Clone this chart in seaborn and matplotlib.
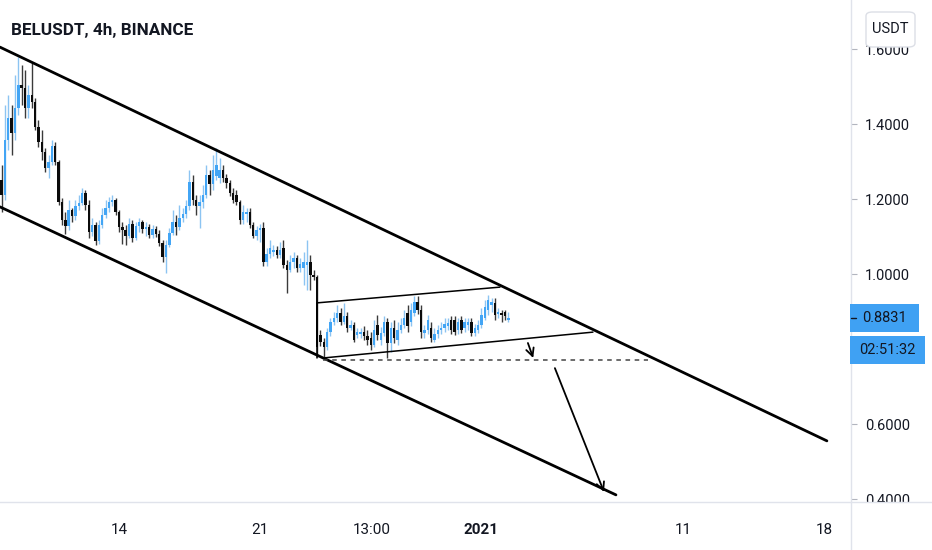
import matplotlib
matplotlib.use("Agg")
import matplotlib.pyplot as plt
import matplotlib.dates as mdates
from matplotlib.patches import Rectangle, FancyBboxPatch
import numpy as np
import pandas as pd
import seaborn as sns

# 4h candles (BELUSDT, Binance)
opens = [1.251, 1.211, 1.357, 1.416, 1.376, 1.443, 1.504, 1.496, 1.443, 1.477,
         1.459, 1.392, 1.352, 1.325, 1.283, 1.299, 1.341, 1.299, 1.192, 1.144,
         1.128, 1.171, 1.155, 1.181, 1.189, 1.216, 1.184, 1.112, 1.131, 1.088,
         1.131, 1.157, 1.176, 1.192, 1.197, 1.165, 1.125, 1.117, 1.101, 1.133,
         1.096, 1.128, 1.139, 1.120, 1.125, 1.104, 1.120, 1.107, 1.083, 1.045,
         1.077, 1.109, 1.139, 1.125, 1.149, 1.160, 1.181, 1.245, 1.197, 1.181,
         1.192, 1.211, 1.264, 1.240, 1.261, 1.256, 1.277, 1.256, 1.243, 1.216,
         1.211, 1.192, 1.144, 1.160, 1.165, 1.131, 1.101, 1.117, 1.123, 1.032,
         1.053, 1.059, 1.064, 1.051, 1.069, 1.024, 1.011, 1.032, 1.043, 1.016,
         1.016, 1.024, 1.032, 0.997, 0.992, 0.837, 0.819, 0.805, 0.845, 0.872,
         0.883, 0.896, 0.872, 0.888, 0.856, 0.864, 0.837, 0.840, 0.845, 0.835,
         0.829, 0.811, 0.864, 0.824, 0.843, 0.872, 0.816, 0.856, 0.824, 0.851,
         0.864, 0.896, 0.872, 0.896, 0.925, 0.904, 0.843, 0.851, 0.856, 0.824,
         0.840, 0.851, 0.856, 0.861, 0.877, 0.877, 0.851, 0.877, 0.856, 0.864,
         0.872, 0.843, 0.851, 0.864, 0.883, 0.904, 0.917, 0.923, 0.893, 0.896,
         0.899, 0.877]
highs = [1.291, 1.451, 1.477, 1.451, 1.531, 1.579, 1.557, 1.544, 1.504, 1.563,
         1.469, 1.411, 1.384, 1.336, 1.317, 1.357, 1.352, 1.304, 1.203, 1.165,
         1.197, 1.176, 1.197, 1.211, 1.229, 1.224, 1.197, 1.149, 1.139, 1.144,
         1.176, 1.197, 1.205, 1.211, 1.203, 1.171, 1.139, 1.131, 1.149, 1.144,
         1.139, 1.149, 1.144, 1.139, 1.133, 1.131, 1.128, 1.117, 1.091, 1.091,
         1.123, 1.171, 1.157, 1.184, 1.176, 1.197, 1.277, 1.264, 1.211, 1.211,
         1.237, 1.291, 1.277, 1.317, 1.336, 1.309, 1.291, 1.267, 1.251, 1.229,
         1.224, 1.197, 1.184, 1.176, 1.176, 1.139, 1.128, 1.133, 1.139, 1.069,
         1.091, 1.077, 1.075, 1.085, 1.091, 1.037, 1.051, 1.059, 1.051, 1.043,
         1.059, 1.091, 1.051, 1.011, 0.997, 0.851, 0.829, 0.856, 0.883, 0.899,
         0.917, 0.909, 0.923, 0.899, 0.877, 0.872, 0.856, 0.856, 0.861, 0.851,
         0.845, 0.877, 0.891, 0.859, 0.888, 0.883, 0.872, 0.877, 0.872, 0.883,
         0.904, 0.917, 0.923, 0.941, 0.941, 0.917, 0.864, 0.891, 0.872, 0.856,
         0.864, 0.872, 0.883, 0.883, 0.888, 0.888, 0.883, 0.888, 0.883, 0.883,
         0.883, 0.867, 0.877, 0.909, 0.931, 0.944, 0.936, 0.936, 0.909, 0.904,
         0.904, 0.899]
lows = [1.165, 1.197, 1.331, 1.317, 1.357, 1.424, 1.451, 1.416, 1.416, 1.443,
        1.384, 1.339, 1.304, 1.272, 1.256, 1.291, 1.291, 1.184, 1.131, 1.107,
        1.117, 1.139, 1.144, 1.171, 1.184, 1.171, 1.096, 1.101, 1.077, 1.080,
        1.123, 1.149, 1.165, 1.181, 1.157, 1.112, 1.080, 1.077, 1.096, 1.085,
        1.091, 1.112, 1.109, 1.101, 1.096, 1.096, 1.099, 1.075, 1.032, 1.003,
        1.072, 1.104, 1.104, 1.117, 1.139, 1.149, 1.171, 1.184, 1.157, 1.123,
        1.176, 1.203, 1.211, 1.224, 1.251, 1.243, 1.245, 1.229, 1.208, 1.189,
        1.184, 1.133, 1.133, 1.139, 1.123, 1.096, 1.091, 1.085, 1.021, 1.021,
        1.043, 1.048, 1.043, 1.043, 1.016, 0.949, 1.005, 1.016, 1.005, 1.005,
        0.971, 0.957, 0.957, 0.984, 0.779, 0.808, 0.779, 0.797, 0.835, 0.864,
        0.872, 0.864, 0.867, 0.845, 0.851, 0.819, 0.829, 0.829, 0.824, 0.811,
        0.797, 0.805, 0.824, 0.811, 0.835, 0.776, 0.792, 0.816, 0.811, 0.843,
        0.856, 0.845, 0.861, 0.888, 0.893, 0.829, 0.829, 0.840, 0.819, 0.819,
        0.829, 0.840, 0.845, 0.851, 0.840, 0.837, 0.840, 0.843, 0.845, 0.851,
        0.835, 0.835, 0.843, 0.856, 0.877, 0.891, 0.899, 0.877, 0.883, 0.872,
        0.877, 0.872]
closes = [1.211, 1.357, 1.416, 1.376, 1.443, 1.504, 1.496, 1.443, 1.477, 1.459,
          1.392, 1.352, 1.325, 1.283, 1.299, 1.341, 1.299, 1.192, 1.144, 1.128,
          1.171, 1.155, 1.181, 1.189, 1.216, 1.184, 1.112, 1.131, 1.088, 1.131,
          1.157, 1.176, 1.192, 1.197, 1.165, 1.125, 1.117, 1.101, 1.133, 1.096,
          1.128, 1.139, 1.120, 1.125, 1.104, 1.120, 1.107, 1.083, 1.045, 1.077,
          1.109, 1.139, 1.125, 1.149, 1.160, 1.181, 1.245, 1.197, 1.181, 1.192,
          1.211, 1.264, 1.240, 1.277, 1.291, 1.277, 1.256, 1.243, 1.216, 1.197,
          1.192, 1.144, 1.165, 1.165, 1.131, 1.101, 1.117, 1.123, 1.032, 1.053,
          1.069, 1.064, 1.051, 1.064, 1.024, 1.011, 1.032, 1.043, 1.016, 1.027,
          1.032, 1.032, 0.997, 0.992, 0.805, 0.819, 0.805, 0.845, 0.872, 0.883,
          0.896, 0.872, 0.888, 0.856, 0.864, 0.824, 0.845, 0.845, 0.835, 0.824,
          0.811, 0.851, 0.837, 0.843, 0.872, 0.816, 0.856, 0.829, 0.851, 0.864,
          0.883, 0.861, 0.904, 0.925, 0.904, 0.845, 0.851, 0.877, 0.829, 0.840,
          0.851, 0.856, 0.867, 0.869, 0.851, 0.845, 0.872, 0.851, 0.872, 0.872,
          0.843, 0.856, 0.864, 0.891, 0.912, 0.931, 0.925, 0.891, 0.899, 0.891,
          0.888, 0.8831]
candle_times = pd.date_range("2020-12-08 04:00", periods=len(closes), freq="4h")
last_price = 0.8831
countdown = "02:51:32"

# drawn trend lines: (start time, start price, end time, end price)
channel_lines = [("2020-12-08 02:10", 1.605, "2021-01-18 03:40", 0.555),
                 ("2020-12-08 02:10", 1.179, "2021-01-07 16:15", 0.411)]
flag_lines = [("2020-12-23 20:00", 0.923, "2021-01-01 22:00", 0.965),
              ("2020-12-24 03:00", 0.776, "2021-01-06 12:50", 0.845),
              ("2020-12-23 20:00", 0.923, "2020-12-23 20:00", 0.776)]
dashed_level = ("2020-12-24 03:00", "2021-01-09 06:20", 0.771)
arrows = [("2021-01-03 07:20", 0.816, "2021-01-03 13:40", 0.776),
          ("2021-01-04 15:30", 0.749, "2021-01-07 02:00", 0.419)]

x_ticks = ["2020-12-14 00:00", "2020-12-21 00:00", "2020-12-26 13:00",
           "2021-01-01 00:00", "2021-01-11 00:00", "2021-01-18 00:00"]
x_labels = ["14", "21", "13:00", "2021", "11", "18"]
y_ticks = [0.4, 0.6, 1.0, 1.2, 1.4, 1.6]

sns.set_theme(style="white")
plt.rcParams["font.family"] = ["Roboto", "DejaVu Sans"]

W, H = 932, 550
fig = plt.figure(figsize=(W / 100, H / 100), dpi=100)
ax = fig.add_axes([0, 48 / H, 851 / W, 502 / H])

up_body, up_wick = "#42a5f5", "#8cc4f2"
dn_body, dn_wick = "#0b0b0b", "#3a3a3a"

t = mdates.date2num(candle_times)
o, h, l, c = map(np.array, (opens, highs, lows, closes))
up = c >= o
for mask, body, wick in [(up, up_body, up_wick), (~up, dn_body, dn_wick)]:
    ax.vlines(t[mask], l[mask], h[mask], color=wick, lw=1, zorder=2)
    ax.bar(t[mask], np.maximum(np.abs(c[mask] - o[mask]), 0.003),
           bottom=np.minimum(o[mask], c[mask]), width=0.12,
           color=body, linewidth=0, zorder=3)

def seg_frame(lines):
    rows = []
    for k, (t0, p0, t1, p1) in enumerate(lines):
        rows.append({"seg": k, "time": mdates.date2num(pd.Timestamp(t0)), "price": p0})
        rows.append({"seg": k, "time": mdates.date2num(pd.Timestamp(t1)), "price": p1})
    return pd.DataFrame(rows)

sns.lineplot(data=seg_frame(channel_lines), x="time", y="price", units="seg",
             estimator=None, color="black", lw=2.0, ax=ax, zorder=4)
sns.lineplot(data=seg_frame(flag_lines), x="time", y="price", units="seg",
             estimator=None, color="black", lw=1.1, ax=ax, zorder=4)

d0, d1, lvl = dashed_level
ax.plot(mdates.date2num([pd.Timestamp(d0), pd.Timestamp(d1)]), [lvl, lvl],
        color="#444444", lw=1.1, ls=(0, (3, 3)), zorder=4)

for (t0, p0, t1, p1) in arrows:
    ax.annotate("", xy=(mdates.date2num(pd.Timestamp(t1)), p1),
                xytext=(mdates.date2num(pd.Timestamp(t0)), p0),
                arrowprops=dict(arrowstyle="->", color="black", lw=1.3,
                                mutation_scale=14, shrinkA=0, shrinkB=0),
                zorder=5)

ax.set_xlim(mdates.date2num(pd.Timestamp("2020-12-08 02:11")),
            mdates.date2num(pd.Timestamp("2021-01-19 08:24")))
ax.set_ylim(0.392, 1.7307)

ax.set_xlabel("")
ax.set_ylabel("")
ax.set_xticks([mdates.date2num(pd.Timestamp(s)) for s in x_ticks])
ax.set_xticklabels(x_labels)
for lab in ax.get_xticklabels():
    if lab.get_text() == "2021":
        lab.set_fontweight("bold")
ax.yaxis.tick_right()
ax.set_yticks(y_ticks)
ax.set_yticklabels([f"{v:.4f}" for v in y_ticks])
ax.tick_params(axis="x", direction="out", length=4, width=0.8, color="#d6d8de",
               labelsize=11, labelcolor="#131722", pad=11)
ax.tick_params(axis="y", direction="out", length=4, width=0.8, color="#b2b5be",
               labelsize=10.5, labelcolor="#131722", pad=6, right=True, left=False)
for side in ["top", "left"]:
    ax.spines[side].set_visible(False)
for side in ["right", "bottom"]:
    ax.spines[side].set_color("#e0e3eb")
    ax.spines[side].set_linewidth(1)
ax.grid(False)

def px(x0, y0, w, hh):
    return (x0 / W, 1 - (y0 + hh) / H), w / W, hh / H

# the price scale ends at the time axis: hide what falls below it
xy, bw, bh = px(852, 503, 80, 47)
fig.add_artist(Rectangle(xy, bw, bh, transform=fig.transFigure,
                         facecolor="white", edgecolor="none", zorder=9))
fig.add_artist(plt.Line2D([851 / W, 1], [48 / H, 48 / H], color="#e0e3eb", lw=1,
                          zorder=9))
fig.add_artist(plt.Line2D([851 / W, 851 / W], [0, 48 / H], color="#e0e3eb", lw=1,
                          zorder=9))

# last price and countdown labels
xy, bw, bh = px(850, 304, 69, 28)
fig.add_artist(Rectangle(xy, bw, bh, transform=fig.transFigure,
                         facecolor="#3fa1f3", edgecolor="none", zorder=10))
fig.text(862 / W, 1 - 318 / H, f"{last_price:.4f}", fontsize=10.5, color="#131722",
         va="center", ha="left", zorder=11)
fig.add_artist(plt.Line2D([851 / W, 856 / W], [1 - 318 / H] * 2, color="#131722",
                          lw=1, zorder=11))
xy, bw, bh = px(850, 336, 75, 28)
fig.add_artist(Rectangle(xy, bw, bh, transform=fig.transFigure,
                         facecolor="#3fa1f3", edgecolor="none", zorder=10))
fig.text(887 / W, 1 - 350 / H, countdown, fontsize=10.5, color="#131722",
         va="center", ha="center", zorder=11)

# currency button over the scale
xy, bw, bh = px(866, 12, 49, 35)
fig.add_artist(FancyBboxPatch(xy, bw, bh, boxstyle="round,pad=0,rounding_size=0.007",
                              transform=fig.transFigure, facecolor="white",
                              edgecolor="#dcdfe6", lw=1, zorder=10))
fig.text(890.5 / W, 1 - 29 / H, "USDT", fontsize=10.5, color="#131722",
         va="center", ha="center", zorder=11)

fig.text(11 / W, 1 - 30 / H, "BELUSDT, 4h, BINANCE", fontsize=12.3, fontweight="bold",
         color="#131722", va="center", ha="left")

fig.savefig("out.png", dpi=100, facecolor="white")
